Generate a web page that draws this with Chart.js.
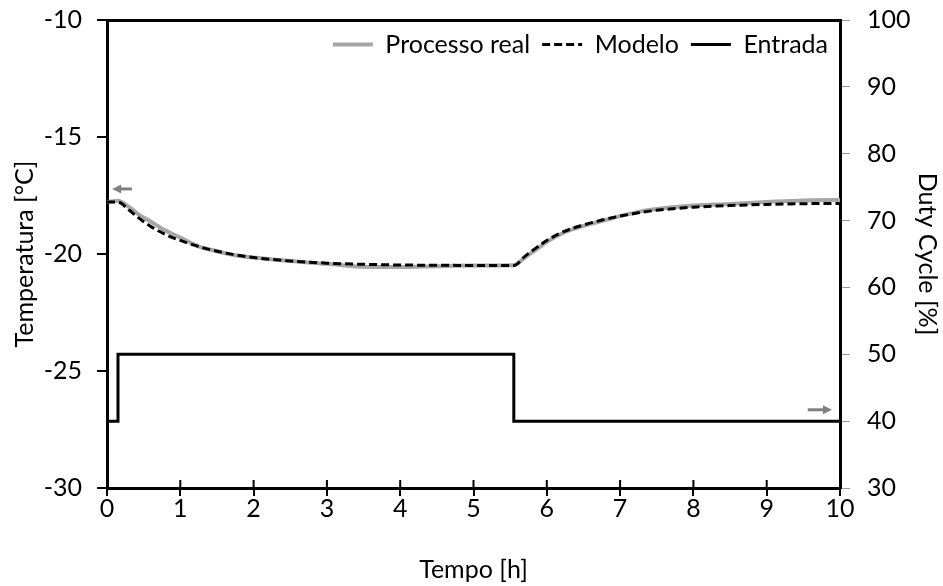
<!DOCTYPE html>
<html>
<head>
<meta charset="utf-8">
<script src="https://cdn.jsdelivr.net/npm/chart.js@4"></script>
<style>
  html, body { margin: 0; padding: 0; background: #fff; }
</style>
</head>
<body>
<canvas id="grafico" width="943" height="586"></canvas>
<script>
// tempo em horas
const tempo = [0, 0.15, 0.3, 0.45, 0.6, 0.8, 1, 1.25, 1.5, 1.75, 2, 2.5, 3, 3.5, 4, 4.5, 5, 5.55,
  5.7, 5.85, 6, 6.25, 6.5, 6.75, 7, 7.25, 7.5, 8, 8.5, 9, 9.5, 10];

// temperatura medida (processo real)
const tempReal = [-17.78, -17.72, -17.99, -18.35, -18.62, -19.0, -19.3, -19.67, -19.88, -20.05, -20.15,
  -20.30, -20.42, -20.55, -20.56, -20.52, -20.49, -20.48,
  -20.15, -19.82, -19.48, -19.06, -18.8, -18.59, -18.38, -18.2, -18.08, -17.93, -17.86, -17.78, -17.71, -17.69];

// temperatura simulada (modelo)
const tempModelo = [-17.78, -17.78, -18.12, -18.5, -18.83, -19.17, -19.42, -19.68, -19.88, -20.04, -20.15,
  -20.30, -20.39, -20.44, -20.47, -20.48, -20.49, -20.49,
  -20.1, -19.75, -19.42, -19.02, -18.76, -18.55, -18.38, -18.24, -18.13, -18.0, -17.93, -17.88, -17.85, -17.84];

// entrada: duty cycle do compressor (degraus)
const tempoEntrada = [0, 0.15, 5.55, 10];
const dutyCycle = [40, 50, 40, 40];

const pares = (xs, ys) => xs.map((x, i) => ({ x: x, y: ys[i] }));

Chart.defaults.font.family = 'Lato';
Chart.defaults.font.size = 25;
Chart.defaults.color = '#000';

// traço interno dos ticks do eixo x
const tracosInternos = {
  id: 'tracosInternos',
  afterDraw(chart) {
    const { ctx, chartArea, scales } = chart;
    const x = scales.x;
    ctx.save();
    ctx.strokeStyle = '#000';
    ctx.lineWidth = 2;
    x.ticks.forEach(t => {
      const px = x.getPixelForValue(t.value);
      ctx.beginPath();
      ctx.moveTo(px, chartArea.bottom);
      ctx.lineTo(px, chartArea.bottom - 8);
      ctx.stroke();
    });
    ctx.restore();
  }
};

// setas indicando o eixo de cada curva
const setas = {
  id: 'setas',
  afterDatasetsDraw(chart) {
    const { ctx, scales } = chart;
    const desenha = (x0, x1, py) => {
      const p0 = scales.x.getPixelForValue(x0);
      const p1 = scales.x.getPixelForValue(x1);
      const dir = Math.sign(p1 - p0);
      ctx.beginPath();
      ctx.moveTo(p0, py);
      ctx.lineTo(p1 - dir * 7, py);
      ctx.stroke();
      ctx.beginPath();
      ctx.moveTo(p1, py);
      ctx.lineTo(p1 - dir * 9, py - 4.5);
      ctx.lineTo(p1 - dir * 9, py + 4.5);
      ctx.closePath();
      ctx.fill();
    };
    ctx.save();
    ctx.strokeStyle = '#808080';
    ctx.fillStyle = '#808080';
    ctx.lineWidth = 3;
    desenha(0.34, 0.07, scales.y.getPixelForValue(-17.22));
    desenha(9.56, 9.89, scales.y2.getPixelForValue(41.7));
    ctx.restore();
  }
};

// a legenda não ocupa espaço no layout: fica por cima da área do gráfico
const legendaSobreposta = {
  id: 'legendaSobreposta',
  afterLayout(chart) {
    const lg = chart.legend;
    if (!lg) return;
    lg.height = 60;
    lg.bottom = lg.top + 60;
  }
};

// itens da legenda com o mesmo traço (tracejado/espessura) das linhas
const itensLegenda = chart => {
  const itens = Chart.defaults.plugins.legend.labels.generateLabels(chart);
  itens.forEach(it => {
    const ds = chart.data.datasets[it.datasetIndex];
    it.lineDash = ds.borderDash || [];
    it.lineWidth = ds.borderWidth;
    it.strokeStyle = ds.borderColor;
  });
  return itens;
};

// sem folga extra dos rótulos nas pontas dos eixos
const semFolga = s => { s.paddingTop = 0; s.paddingBottom = 0; };

new Chart(document.getElementById('grafico'), {
  type: 'line',
  data: {
    datasets: [
      {
        label: 'Processo real',
        data: pares(tempo, tempReal),
        yAxisID: 'y',
        borderColor: '#a6a6a6',
        borderWidth: 4,
        pointRadius: 0,
        cubicInterpolationMode: 'monotone',
        order: 1
      },
      {
        label: 'Modelo',
        data: pares(tempo, tempModelo),
        yAxisID: 'y',
        borderColor: '#000',
        borderWidth: 3,
        borderDash: [8, 4],
        pointRadius: 0,
        cubicInterpolationMode: 'monotone',
        order: 0
      },
      {
        label: 'Entrada',
        data: pares(tempoEntrada, dutyCycle),
        yAxisID: 'y2',
        borderColor: '#000',
        borderWidth: 3,
        stepped: 'before',
        pointRadius: 0,
        order: 2
      }
    ]
  },
  options: {
    responsive: false,
    animation: false,
    devicePixelRatio: 1,
    layout: { padding: { top: 20, left: 0, right: 0, bottom: 0 } },
    plugins: {
      tooltip: { enabled: false },
      legend: {
        position: 'top',
        align: 'end',
        fullSize: false,
        maxHeight: 0.01,
        labels: {
          usePointStyle: true,
          pointStyle: 'line',
          pointStyleWidth: 40,
          padding: 12,
          font: { size: 25 },
          generateLabels: itensLegenda,
          sort: (a, b) => a.datasetIndex - b.datasetIndex
        }
      }
    },
    scales: {
      x: {
        type: 'linear',
        position: 'bottom',
        min: 0,
        max: 10,
        ticks: { stepSize: 1, padding: -2 },
        grid: { drawOnChartArea: false, tickLength: 8, color: '#000', lineWidth: 2 },
        border: { color: '#000', width: 3 },
        title: { display: true, text: 'Tempo [h]', padding: { top: 0, bottom: 1 } },
        afterFit(s) { s.height = 98; }
      },
      xTopo: {
        type: 'linear',
        position: 'top',
        min: 0,
        max: 10,
        ticks: { display: false },
        grid: { display: false },
        border: { color: '#000', width: 3 },
        afterFit(s) { s.height = 0; }
      },
      y: {
        position: 'left',
        min: -30,
        max: -10,
        ticks: { stepSize: 5, padding: 15 },
        grid: { drawOnChartArea: false, tickLength: 10, color: '#000', lineWidth: 2 },
        border: { color: '#000', width: 3 },
        title: { display: true, text: 'Temperatura [°C]', padding: { top: 10, bottom: 0 } },
        afterFit(s) { s.width = 107; semFolga(s); }
      },
      y2: {
        position: 'right',
        min: 30,
        max: 100,
        ticks: { stepSize: 10, padding: 17 },
        grid: { drawOnChartArea: false, tickLength: 10, color: '#9a9a9a', lineWidth: 1 },
        border: { color: '#000', width: 3 },
        title: { display: true, text: 'Duty Cycle [%]', padding: { top: 1, bottom: 0 } },
        afterFit(s) { s.width = 103; semFolga(s); }
      }
    }
  },
  plugins: [tracosInternos, setas, legendaSobreposta]
});
</script>
</body>
</html>
